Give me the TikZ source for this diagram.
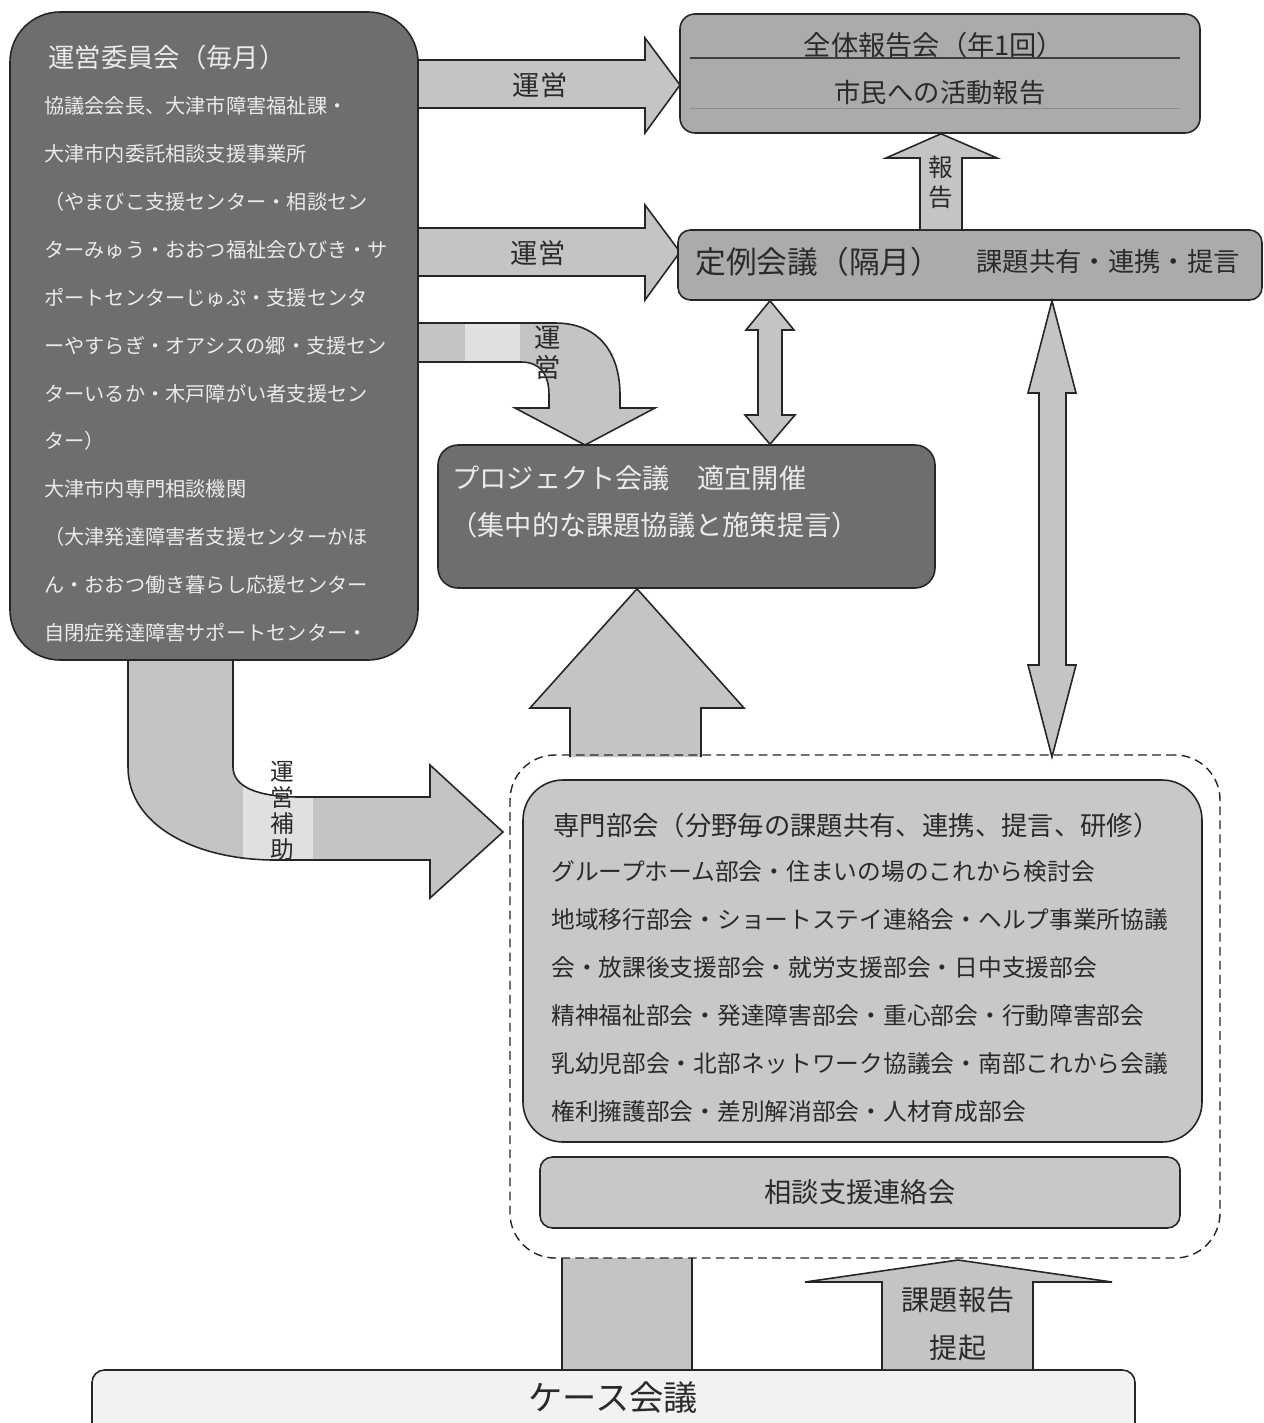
\documentclass[tikz,border=0pt]{standalone}
\usepackage{fontspec}
\setmainfont{Noto Sans CJK JP}
\usetikzlibrary{fit}

\definecolor{darkfill}{HTML}{6E6E6E}
\definecolor{midfill}{HTML}{ABABAB}
\definecolor{arrowfill}{HTML}{C4C4C4}
\definecolor{specfill}{HTML}{C8C8C8}
\definecolor{casefill}{HTML}{F2F2F2}
\definecolor{patchfill}{HTML}{E0E0E0}
\definecolor{inkdark}{HTML}{2A2A2A}
\definecolor{inklight}{HTML}{EBEBEB}

\newcommand\fs[1]{\fontsize{#1}{#1}\selectfont}

\tikzset{
  box/.style={draw=black!85, line width=0.9pt, inner sep=0pt},
  darkbox/.style={box, fill=darkfill},
  midbox/.style={box, fill=midfill},
  blockarrow/.style={draw=black!85, line width=0.9pt, fill=arrowfill, line join=miter},
  lighttext/.style={text=inklight, inner sep=0pt},
  darktext/.style={text=inkdark, inner sep=0pt},
  vlabel/.style={darktext, align=center},
}

\begin{document}
\begin{tikzpicture}[x=0.02cm, y=-0.02cm]
\clip (0,0) rectangle (1264,1423);
\fill[white] (0,0) rectangle (1264,1423);

% arrows leaving the committee box
\filldraw[blockarrow] (410,60) -- (645,60) -- (645,38) -- (680,85) -- (645,133) -- (645,108) -- (410,108) -- cycle;
\filldraw[blockarrow] (410,228) -- (645,228) -- (645,205) -- (680,252) -- (645,300) -- (645,276) -- (410,276) -- cycle;
\filldraw[blockarrow, path picture={\fill[patchfill] (465,300) rectangle (520,380);}]
  (410,323) -- (555,323) .. controls (598,323) and (620,352) .. (620,395) -- (620,408)
  -- (655,408) -- (585,445) -- (515,408) -- (549,408) -- (549,395)
  .. controls (549,374) and (540,362) .. (521,362) -- (410,362) -- cycle;
\filldraw[blockarrow, path picture={\fill[patchfill] (243,780) rectangle (313,880);}]
  (128,650) -- (128,767) .. controls (128,825) and (195,860) .. (275,860) -- (430,860)
  -- (430,898) -- (503,832) -- (430,765) -- (430,797) -- (300,797)
  .. controls (258,797) and (233,787) .. (233,767) -- (233,650) -- cycle;

% boxes
\node[darkbox, rounded corners=1cm, fit={(10,12) (418,660)}] (iinkai) {};
\node[midbox, rounded corners=0.3cm, fit={(680,14) (1200,133)}] (zentai) {};
\node[midbox, rounded corners=0.25cm, fit={(678,230) (1262,300)}] (teirei) {};
\node[darkbox, rounded corners=0.4cm, fit={(438,445) (935,588)}] (project) {};
\node[box, fill=specfill, rounded corners=0.8cm, fit={(523,780) (1202,1142)}] (senmon) {};
\node[box, fill=specfill, rounded corners=0.25cm, fit={(540,1157) (1180,1228)}] (soudan) {};
\node[box, fill=casefill, rounded corners=0.25cm, fit={(92,1370) (1135,1450)}] (case) {};

\draw[black!75, line width=1.1pt] (690,58) -- (1180,58);
\draw[black!45, line width=0.5pt] (690,108) -- (1180,108);

% report arrow and double arrows
\filldraw[blockarrow] (920,0 |- teirei.north) -- (920,158) -- (886,158) -- (941,0 |- zentai.south)
  -- (997,158) -- (962,158) -- (962,0 |- teirei.north);
\filldraw[blockarrow] (770,0 |- teirei.south) -- (794,330) -- (782,330) -- (782,415) -- (795,415)
  -- (770,0 |- project.north) -- (745,415) -- (758,415) -- (758,330) -- (746,330) -- cycle;
\filldraw[blockarrow] (1052,0 |- teirei.south) -- (1076,393) -- (1066,393) -- (1066,665) -- (1076,665)
  -- (1052,757) -- (1028,665) -- (1039,665) -- (1039,393) -- (1028,393) -- cycle;

% up arrow into the project meeting
\fill[arrowfill] (570,757) -- (570,708) -- (530,708) -- (637,0 |- project.south) -- (744,708) -- (701,708) -- (701,757) -- cycle;
\draw[blockarrow, fill=none] (570,757) -- (570,708) -- (530,708) -- (637,0 |- project.south) -- (744,708) -- (701,708) -- (701,757);

% arrows from the case meeting
\fill[arrowfill] (562,1258) rectangle (692,0 |- case.north);
\draw[blockarrow] (562,1258) -- (562,0 |- case.north) (692,1258) -- (692,0 |- case.north);
\filldraw[blockarrow] (882,0 |- case.north) -- (882,1282) -- (805,1282) -- (958,1260) -- (1112,1282)
  -- (1033,1282) -- (1033,0 |- case.north);

% dashed group round the sections
\node[draw=black!85, line width=0.8pt, dash pattern=on 5pt off 3pt, rounded corners=0.9cm,
  inner sep=0pt, fit={(510,755) (1220,1258)}] (group) {};

% committee text
\node[lighttext, anchor=west, font=\fs{15}] (iinkai-title) at (48,57) {運営委員会（毎月）};
\begin{scope}
\clip (10,12) rectangle (418,641);
\foreach \t [count=\i] in {協議会会長、大津市障害福祉課・, 大津市内委託相談支援事業所,
  （やまびこ支援センター・相談セン, ターみゅう・おおつ福祉会ひびき・サ,
  ポートセンターじゅぷ・支援センタ, ーやすらぎ・オアシスの郷・支援セン,
  ターいるか・木戸障がい者支援セン, ター）, 大津市内専門相談機関,
  （大津発達障害者支援センターかほ, ん・おおつ働き暮らし応援センター,
  自閉症発達障害サポートセンター・}
  \node[lighttext, anchor=west, font=\fs{11.5}] (iinkai-\i) at (44,{106+47.9*(\i-1)}) {\t};
\end{scope}

% other texts
\node[darktext, font=\fs{15.5}] (zentai-title) at (934,45) {全体報告会（年1回）};
\node[darktext, font=\fs{15}] (zentai-sub) at (940,93) {市民への活動報告};
\node[darktext, font=\fs{17.5}, anchor=west] (teirei-title) at (695,262) {定例会議（隔月）};
\node[darktext, font=\fs{15}, anchor=west] (teirei-sub) at (976,262) {課題共有・連携・提言};
\node[lighttext, font=\fs{15.5}, anchor=west] (project-title) at (452,478) {プロジェクト会議　適宜開催};
\node[lighttext, font=\fs{15.5}, anchor=west] (project-sub) at (450,525) {（集中的な課題協議と施策提言）};

\node[darktext, font=\fs{15}, anchor=west] (senmon-title) at (553,825) {専門部会（分野毎の課題共有、連携、提言、研修）};
\foreach \t [count=\i] in {グループホーム部会・住まいの場のこれから検討会,
  地域移行部会・ショートステイ連絡会・ヘルプ事業所協議,
  会・放課後支援部会・就労支援部会・日中支援部会,
  精神福祉部会・発達障害部会・重心部会・行動障害部会,
  乳幼児部会・北部ネットワーク協議会・南部これから会議,
  権利擁護部会・差別解消部会・人材育成部会}
  \node[darktext, anchor=west, font=\fs{13.5}] (senmon-\i) at (551,{872+47.8*(\i-1)}) {\t};

\node[darktext, font=\fs{15.5}] (soudan-text) at (soudan.center) {相談支援連絡会};
\node[darktext, font=\fs{19.5}] (case-text) at (613,1398) {ケース会議};

% arrow labels
\node[darktext, font=\fs{15.5}] (unei1) at (540,85) {運営};
\node[darktext, font=\fs{15.5}] (unei2) at (538,253) {運営};
\node[vlabel, font=\fontsize{15}{17}\selectfont] (unei3) at (548,353) {運\\営};
\node[vlabel, font=\fontsize{13.5}{14.8}\selectfont] (hojo) at (282,811) {運\\営\\補\\助};
\node[vlabel, font=\fontsize{14}{17}\selectfont] (hokoku) at (941,182) {報\\告};
\node[darktext, font=\fs{16}] (kadai) at (958,1300) {課題報告};
\node[darktext, font=\fs{16}] (teiki) at (958,1348) {提起};
\end{tikzpicture}
\end{document}
